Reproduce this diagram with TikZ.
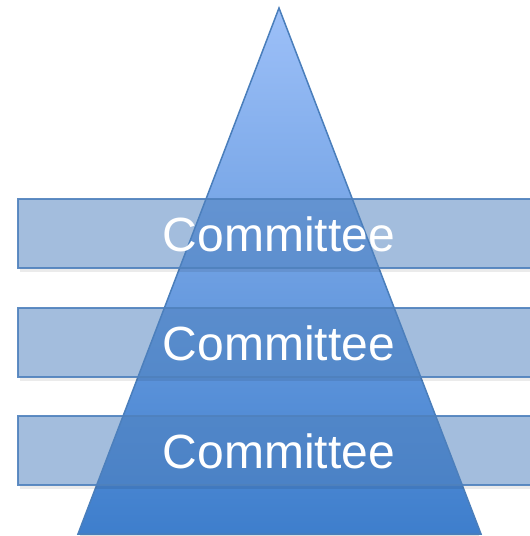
\documentclass[tikz,border=0pt]{standalone}
\usepackage{fontspec}
\setmainfont{Liberation Sans}
\definecolor{edgeblue}{HTML}{4A7EBB}
\definecolor{topblue}{HTML}{9DC0F8}
\definecolor{botblue}{HTML}{3E7ECC}
\definecolor{barblue}{HTML}{4F81BD}
\tikzset{
  pyr/.style={draw=edgeblue, line width=1.5pt, top color=topblue, bottom color=botblue, line join=miter},
  barbox/.style={draw=barblue, line width=1.5pt, fill=barblue, fill opacity=0.52, draw opacity=0.9},
  lbl/.style={text=white, font=\fontsize{48}{50}\selectfont, inner sep=0pt},
}
\begin{document}
\begin{tikzpicture}[x=1pt,y=-1pt]
\useasboundingbox (0,0) rectangle (530,536);
\coordinate (apex) at (279,8);
\coordinate (bl) at (78,534);
\coordinate (br) at (481,534);
\fill[black!25, opacity=0.5] (80,536) -- (479,536) -- (479,534) -- (80,534) -- cycle;
\path[pyr] (apex) -- (br) -- (bl) -- cycle;
\foreach \t/\n in {199/a,308/b,416/c}{
  \fill[black, opacity=0.08] (20,\t+69) rectangle (540,\t+73);
  \path[barbox] (18,\t) rectangle (540,\t+69);
  \node[lbl] (\n) at (279,\t+35.5) {Committee};
}
\end{tikzpicture}
\end{document}
